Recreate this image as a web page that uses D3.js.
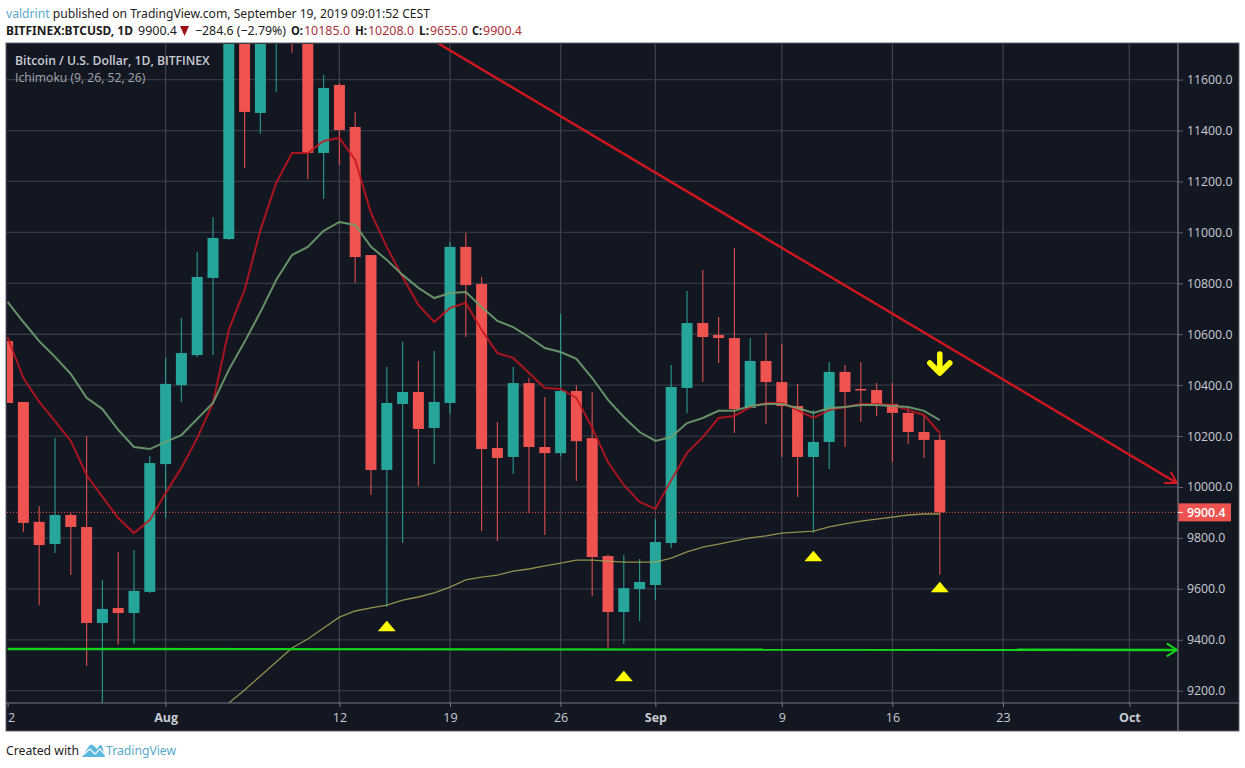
<!DOCTYPE html>
<html>
<head>
<meta charset="utf-8">
<title>BTCUSD</title>
<script src="https://d3js.org/d3.v7.min.js"></script>
<style>
  html, body { margin: 0; padding: 0; background: #fff; }
  svg { display: block; font-family: "Open Sans", sans-serif; }
  .hdr { font-family: "Noto Sans", sans-serif; }
</style>
</head>
<body>
<svg id="chart"></svg>
<script>
const width = 1245;
const height = 768;

// first candle is Jul 22, one candle per day
const firstDay = "2019-07-22";

const opens = [10573, 10334, 9863, 9776, 9890, 9843, 9466, 9525, 9505, 9588,
  10090, 10400, 10518, 10821, 10974, 11850, 11469, 11820, 11950, 11850,
  11312, 11579, 11414, 10911, 10067, 10326, 10373, 10232, 10330, 10943,
  10797, 10153, 10118, 10408, 10157, 10133, 10377, 10192, 9729, 9509,
  9599, 9615, 9780, 10389, 10644, 10597, 10585, 10310, 10495, 10412,
  10318, 10118, 10177, 10452, 10385, 10381, 10326, 10291, 10216, 10185];
const highs = [10573, 10334, 9925, 10192, 9898, 10200, 9635, 9745, 9753, 10122,
  10507, 10664, 10923, 11060, 12000, 12000, 12000, 12100, 12100, 12000,
  11618, 11587, 11473, 10911, 10471, 10570, 10495, 10534, 10962, 10998,
  10825, 10255, 10471, 10428, 10353, 10680, 10400, 10373, 9735, 9733,
  9717, 9874, 10479, 10770, 10852, 10668, 10939, 10585, 10605, 10562,
  10405, 10302, 10491, 10479, 10491, 10408, 10408, 10310, 10279, 10208];
const lows = [10330, 9823, 9536, 9741, 9654, 9297, 9100, 9380, 9383, 9584,
  9878, 10334, 10510, 10518, 10970, 11253, 11387, 11551, 11705, 11210,
  11131, 11265, 10801, 9969, 9529, 9780, 10004, 10090, 10287, 10589,
  9827, 9788, 10051, 9898, 9811, 10120, 10024, 9572, 9368, 9383,
  9474, 9556, 9760, 10290, 10412, 10487, 10212, 10310, 10247, 10118,
  9961, 9819, 10071, 10157, 10255, 10279, 10098, 10169, 10114, 9655];
const closes = [10330, 9859, 9772, 9890, 9843, 9466, 9521, 9505, 9592, 10094,
  10405, 10526, 10825, 10978, 11850, 11473, 11800, 11950, 11850, 11312,
  11567, 11402, 10903, 10067, 10330, 10373, 10228, 10334, 10943, 10793,
  10149, 10114, 10408, 10157, 10133, 10377, 10180, 9725, 9509, 9603,
  9627, 9784, 10393, 10644, 10589, 10585, 10306, 10495, 10412, 10318,
  10118, 10177, 10452, 10373, 10381, 10326, 10291, 10216, 10185, 9900.4];

// ichimoku lines, same days as the candles
const conversionLine = [10589, 10428, 10334, 10259, 10181, 10047, 9961, 9878, 9819, 9870,
  9976, 10075, 10192, 10330, 10617, 10774, 11009, 11194, 11312, 11312,
  11359, 11371, 11284, 11076, 10943, 10825, 10715, 10648, 10703, 10723,
  10617, 10526, 10507, 10448, 10389, 10385, 10350, 10232, 10098, 10008,
  9941, 9914, 10027, 10134, 10196, 10271, 10279, 10314, 10330, 10330,
  10302, 10271, 10302, 10314, 10326, 10326, 10322, 10302, 10283, 10212];
const baseLine = [10727, 10648, 10573, 10511, 10444, 10350, 10306, 10224, 10157, 10149,
  10177, 10204, 10267, 10330, 10460, 10570, 10687, 10813, 10911, 10943,
  11006, 11041, 11029, 10943, 10892, 10833, 10782, 10742, 10762, 10766,
  10707, 10652, 10628, 10589, 10546, 10530, 10503, 10428, 10342, 10275,
  10216, 10181, 10196, 10251, 10271, 10299, 10299, 10318, 10326, 10326,
  10310, 10291, 10310, 10314, 10322, 10322, 10318, 10314, 10299, 10263];
// olive line only enters the window on Aug 5
const leadLine = [null, null, null, null, null, null, null, null, null, null,
  null, null, null, null, 9152, 9203, 9258, 9313, 9368, 9403,
  9446, 9489, 9513, 9525, 9536, 9556, 9568, 9584, 9607, 9635,
  9646, 9654, 9670, 9678, 9690, 9701, 9713, 9713, 9709, 9705,
  9705, 9705, 9721, 9745, 9764, 9776, 9788, 9800, 9808, 9819,
  9823, 9827, 9843, 9855, 9866, 9874, 9882, 9890, 9894, 9894];

const priceTicks = [9200, 9400, 9600, 9800, 10000, 10200, 10400, 10600, 10800, 11000, 11200, 11400, 11600];
const dateTicks = ["2019-07-22", "2019-08-01", "2019-08-12", "2019-08-19", "2019-08-26", "2019-09-01", "2019-09-09", "2019-09-16", "2019-09-23", "2019-10-01"];
const dateLabels = ["22", "Aug", "12", "19", "26", "Sep", "9", "16", "23", "Oct"];
const monthLabels = ["Aug", "Sep", "Oct"];

const lastPrice = 9900.4;

// drawn annotations, in chart coordinates
const trendTimes = ["2019-08-18T05:00Z", "2019-10-04T00:00Z"];
const trendPrices = [11744, 10016];
const supportTimes = ["2019-07-22T00:00Z", "2019-10-04T00:00Z"];
const supportPrices = [9364, 9360];
const markerDays = ["2019-08-15", "2019-08-30", "2019-09-11", "2019-09-19"];
const markerPrices = [9454, 9258, 9729, 9607];
const downArrowDay = "2019-09-19";
const downArrowPrice = 10483;

const bg = "#131722";
const up = "#26a69a";
const down = "#ef5350";
const gridColor = "#343843";

const parse = s => new Date(s.length === 10 ? s + "T00:00Z" : s);

const x = d3.scaleUtc()
  .domain([parse(firstDay), parse("2019-10-01")])
  .range([7.6, 1129.4]);

const y = d3.scaleLinear()
  .domain([9200, 11600])
  .range([690.7, 79.6]);

const plot = { left: 7, right: 1178, top: 44, bottom: 703 };
const frame = { left: 6, right: 1239, top: 43, bottom: 731 };

const candles = opens.map((o, i) => ({
  date: d3.utcDay.offset(parse(firstDay), i),
  open: o, high: highs[i], low: lows[i], close: closes[i]
}));

const svg = d3.select("#chart")
  .attr("width", width)
  .attr("height", height)
  .attr("viewBox", [0, 0, width, height]);

svg.append("rect").attr("width", width).attr("height", height).attr("fill", "#fff");

// chart frame
svg.append("rect")
  .attr("x", frame.left).attr("y", frame.top)
  .attr("width", frame.right - frame.left).attr("height", frame.bottom - frame.top)
  .attr("fill", bg)
  .attr("stroke", "#62656e");

const defs = svg.append("defs");
defs.append("clipPath").attr("id", "plot-clip").append("rect")
  .attr("x", plot.left).attr("y", plot.top)
  .attr("width", plot.right - plot.left).attr("height", plot.bottom - plot.top);

const plotG = svg.append("g").attr("clip-path", "url(#plot-clip)");

// grid
plotG.append("g").selectAll("line")
  .data(priceTicks)
  .join("line")
  .attr("x1", plot.left).attr("x2", plot.right)
  .attr("y1", d => y(d)).attr("y2", d => y(d))
  .attr("stroke", gridColor).attr("stroke-width", 1.3);

plotG.append("g").selectAll("line")
  .data(dateTicks.slice(1))
  .join("line")
  .attr("x1", d => x(parse(d))).attr("x2", d => x(parse(d)))
  .attr("y1", plot.top).attr("y2", plot.bottom)
  .attr("stroke", "#3c404b").attr("stroke-width", 1.3);

// last price line
plotG.append("line")
  .attr("x1", plot.left).attr("x2", plot.right)
  .attr("y1", y(lastPrice)).attr("y2", y(lastPrice))
  .attr("stroke", down)
  .attr("stroke-width", 1)
  .attr("stroke-dasharray", "1 2");

// candles
const candle = plotG.append("g").selectAll("g")
  .data(candles)
  .join("g")
  .attr("fill", d => d.close >= d.open ? up : down)
  .attr("stroke", d => d.close >= d.open ? up : down);

candle.append("line")
  .attr("x1", d => x(d.date)).attr("x2", d => x(d.date))
  .attr("y1", d => y(d.high)).attr("y2", d => y(d.low))
  .attr("stroke-width", 1.2)
  .attr("opacity", 0.85);

candle.append("rect")
  .attr("x", d => x(d.date) - 5.5)
  .attr("width", 11)
  .attr("y", d => y(Math.max(d.open, d.close)))
  .attr("height", d => Math.max(1.5, Math.abs(y(d.open) - y(d.close))))
  .attr("stroke", "none");

// ichimoku
const ichimoku = values => d3.line()
  .defined(v => v !== null)
  .x((v, i) => x(d3.utcDay.offset(parse(firstDay), i)))
  .y(v => y(v))(values);

plotG.append("path").attr("d", ichimoku(leadLine))
  .attr("fill", "none").attr("stroke", "#a8a655").attr("stroke-width", 1.3).attr("opacity", 0.85);
plotG.append("path").attr("d", ichimoku(conversionLine))
  .attr("fill", "none").attr("stroke", "#c4141f").attr("stroke-width", 2).attr("opacity", 0.85);
plotG.append("path").attr("d", ichimoku(baseLine))
  .attr("fill", "none").attr("stroke", "#6f9f70").attr("stroke-width", 2).attr("opacity", 0.9);

// trend lines with open arrow heads
function arrowLine(times, prices, color, headBack, headSide) {
  const [x1, x2] = times.map(t => x(parse(t)));
  const [y1, y2] = prices.map(p => y(p));
  const a = Math.atan2(y2 - y1, x2 - x1);
  const wing = s => [
    x2 - headBack * Math.cos(a) + s * headSide * Math.sin(a),
    y2 - headBack * Math.sin(a) - s * headSide * Math.cos(a)
  ];
  plotG.append("line")
    .attr("x1", x1).attr("y1", y1).attr("x2", x2).attr("y2", y2)
    .attr("stroke", color).attr("stroke-width", 2.4);
  plotG.append("path")
    .attr("d", d3.line()([wing(1), [x2, y2], wing(-1)]))
    .attr("fill", "none").attr("stroke", color).attr("stroke-width", 2);
}
arrowLine(trendTimes, trendPrices, "#d2161f", 11, 6.5);
arrowLine(supportTimes, supportPrices, "#14d41c", 10, 6.5);

// yellow markers
plotG.append("g").selectAll("path")
  .data(markerDays.map((d, i) => [x(parse(d)), y(markerPrices[i])]))
  .join("path")
  .attr("d", d => `M${d[0] - 8.5},${d[1] + 5}L${d[0]},${d[1] - 5}L${d[0] + 8.5},${d[1] + 5}Z`)
  .attr("fill", "#ffff00")
  .attr("stroke", "#ffff00")
  .attr("stroke-width", 0.5)
  .attr("stroke-linejoin", "round");

const ax = x(parse(downArrowDay));
const ay = y(downArrowPrice);
plotG.append("path")
  .attr("d", `M${ax},${ay - 10}V${ay + 8}M${ax - 10},${ay - 1}L${ax},${ay + 9}L${ax + 10},${ay - 1}`)
  .attr("fill", "none")
  .attr("stroke", "#ffff00")
  .attr("stroke-width", 5.5)
  .attr("stroke-linecap", "round")
  .attr("stroke-linejoin", "round");

// price axis
const yAxis = svg.append("g")
  .attr("transform", `translate(${plot.right},0)`)
  .call(d3.axisRight(y).tickValues(priceTicks).tickFormat(d3.format(".1f")).tickSize(5).tickPadding(4));
yAxis.select(".domain").remove();
yAxis.selectAll("line").attr("stroke", "#62656e");
yAxis.selectAll("text")
  .attr("fill", "#c9ccd4")
  .style("font-family", "'Open Sans', sans-serif")
  .style("font-size", "12.3px");

svg.append("line")
  .attr("x1", plot.right).attr("x2", plot.right)
  .attr("y1", frame.top).attr("y2", frame.bottom)
  .attr("stroke", "#767983").attr("stroke-width", 1.2);

// time axis
const xAxis = svg.append("g")
  .attr("transform", `translate(0,${plot.bottom})`)
  .call(d3.axisBottom(x)
    .tickValues(dateTicks.map(parse))
    .tickFormat((d, i) => dateLabels[i])
    .tickSize(4).tickPadding(6));
xAxis.select(".domain").remove();
xAxis.selectAll("line").attr("stroke", "#767983");
xAxis.selectAll("text")
  .attr("fill", "#c9ccd4")
  .style("font-family", "'Open Sans', sans-serif")
  .style("font-size", "12.5px")
  .style("font-weight", (d, i) => monthLabels.includes(dateLabels[i]) ? 700 : 400);
// the first label is cut by the frame
xAxis.selectAll(".tick").filter((d, i) => i === 0).select("text")
  .attr("clip-path", "inset(0 0 0 7px)");

svg.append("line")
  .attr("x1", frame.left).attr("x2", frame.right)
  .attr("y1", plot.bottom).attr("y2", plot.bottom)
  .attr("stroke", "#767983").attr("stroke-width", 1.2);

// last price label
const tagY = y(lastPrice);
svg.append("rect")
  .attr("x", 1178.5).attr("y", tagY - 9)
  .attr("width", 52.5).attr("height", 18)
  .attr("fill", down);
svg.append("line")
  .attr("x1", plot.right).attr("x2", plot.right + 5)
  .attr("y1", tagY).attr("y2", tagY)
  .attr("stroke", "#fff");
svg.append("text")
  .attr("x", 1187).attr("y", tagY + 4.5)
  .attr("fill", "#fff")
  .style("font-size", "12.3px")
  .style("font-weight", 600)
  .text(d3.format(".1f")(lastPrice));

// legend in the chart
svg.append("text")
  .attr("x", 15).attr("y", 65)
  .attr("fill", "#c9ccd4")
  .style("font-size", "12.2px")
  .style("font-weight", 600)
  .text("Bitcoin / U.S. Dollar, 1D, BITFINEX");
svg.append("text")
  .attr("x", 15).attr("y", 82)
  .attr("fill", "#a3a6af")
  .style("font-size", "12.2px")
  .text("Ichimoku (9, 26, 52, 26)");

// header
const header1 = svg.append("text").attr("class", "hdr").attr("x", 6).attr("y", 17.5)
  .attr("textLength", 424).attr("lengthAdjust", "spacingAndGlyphs")
  .style("font-size", "13px").attr("fill", "#222");
header1.append("tspan").attr("fill", "#59a9c9").text("valdrint");
header1.append("tspan").text(" published on TradingView.com, September 19, 2019 09:01:52 CEST");

const headerBits = [
  { x: 6, w: 127, text: "BITFINEX:BTCUSD, 1D", weight: 700, color: "#1c1c1c" },
  { x: 138, w: 39, text: "9900.4", weight: 400, color: "#1c1c1c" },
  { x: 195, w: 91, text: "\u2212284.6 (\u22122.79%)", weight: 400, color: "#1c1c1c" },
  { x: 291, w: 12, text: "O:", weight: 700, color: "#1c1c1c" },
  { x: 304, w: 46, text: "10185.0", weight: 400, color: "#a8323a" },
  { x: 355, w: 12, text: "H:", weight: 700, color: "#1c1c1c" },
  { x: 368, w: 46, text: "10208.0", weight: 400, color: "#a8323a" },
  { x: 419, w: 10, text: "L:", weight: 700, color: "#1c1c1c" },
  { x: 430, w: 38, text: "9655.0", weight: 400, color: "#a8323a" },
  { x: 472, w: 10, text: "C:", weight: 700, color: "#1c1c1c" },
  { x: 483, w: 39, text: "9900.4", weight: 400, color: "#a8323a" }
];
svg.append("g").selectAll("text")
  .data(headerBits)
  .join("text")
  .attr("class", "hdr")
  .attr("x", d => d.x).attr("y", 35)
  .attr("textLength", d => d.w)
  .attr("lengthAdjust", "spacingAndGlyphs")
  .attr("fill", d => d.color)
  .style("font-size", "12.5px")
  .style("font-weight", d => d.weight)
  .text(d => d.text);

svg.append("path")
  .attr("d", "M180,26H189L184.5,36Z")
  .attr("fill", "#9c1016");

// footer
svg.append("text")
  .attr("class", "hdr")
  .attr("x", 6).attr("y", 755)
  .attr("textLength", 73).attr("lengthAdjust", "spacingAndGlyphs")
  .attr("fill", "#222")
  .style("font-size", "13px")
  .text("Created with");
svg.append("path")
  .attr("d", "M82,757L89,746Q91,743 94,746L97,749L99,746Q101,744 102,746L105,757Z")
  .attr("fill", "#5cb8df");
svg.append("path")
  .attr("d", "M83,755L90,749L95,754L100,749L104,754")
  .attr("fill", "none").attr("stroke", "#fff").attr("stroke-width", 1.2);
svg.append("text")
  .attr("class", "hdr")
  .attr("x", 106).attr("y", 755)
  .attr("textLength", 70).attr("lengthAdjust", "spacingAndGlyphs")
  .attr("fill", "#59a9c9")
  .style("font-size", "13px")
  .text("TradingView");
</script>
</body>
</html>
